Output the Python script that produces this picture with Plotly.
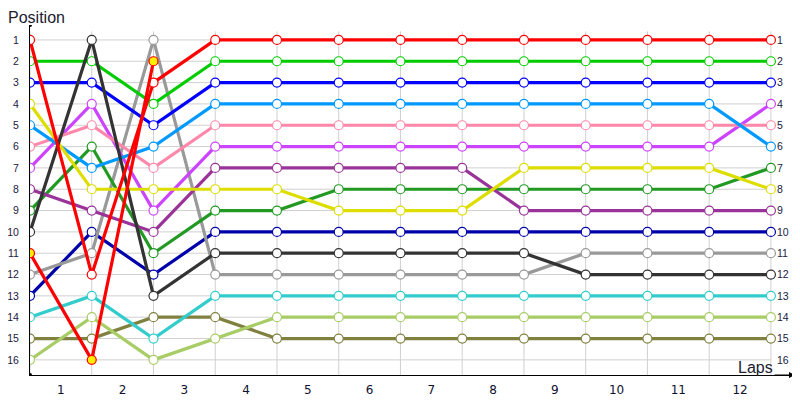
import plotly.graph_objects as go

# lap boundaries 0..12, positions per driver (None = retired)
boundaries = list(range(13))
lap_labels = [str(i) for i in range(1, 13)]
positions = list(range(1, 17))

red = [1, 12, 3, 1, 1, 1, 1, 1, 1, 1, 1, 1, 1]
green = [2, 2, 4, 2, 2, 2, 2, 2, 2, 2, 2, 2, 2]
blue = [3, 3, 5, 3, 3, 3, 3, 3, 3, 3, 3, 3, 3]
yellow = [4, 8, 8, 8, 8, 9, 9, 9, 7, 7, 7, 7, 8]
light_blue = [5, 7, 6, 4, 4, 4, 4, 4, 4, 4, 4, 4, 6]
pink = [6, 5, 7, 5, 5, 5, 5, 5, 5, 5, 5, 5, 5]
magenta = [7, 4, 9, 6, 6, 6, 6, 6, 6, 6, 6, 6, 4]
purple = [8, 9, 10, 7, 7, 7, 7, 7, 9, 9, 9, 9, 9]
dark_green = [9, 6, 11, 9, 9, 8, 8, 8, 8, 8, 8, 8, 7]
black = [10, 1, 13, 11, 11, 11, 11, 11, 11, 12, 12, 12, 12]
red_pit = [11, 16, 2, None, None, None, None, None, None, None, None, None, None]
grey = [12, 11, 1, 12, 12, 12, 12, 12, 12, 11, 11, 11, 11]
navy = [13, 10, 12, 10, 10, 10, 10, 10, 10, 10, 10, 10, 10]
cyan = [14, 13, 15, 13, 13, 13, 13, 13, 13, 13, 13, 13, 13]
olive = [15, 15, 14, 14, 15, 15, 15, 15, 15, 15, 15, 15, 15]
light_green = [16, 14, 16, 15, 14, 14, 14, 14, 14, 14, 14, 14, 14]

series = [
    (olive, "#808040", "white"),
    (light_green, "#a8cc66", "white"),
    (cyan, "#33cccc", "white"),
    (navy, "#0000aa", "white"),
    (grey, "#999999", "white"),
    (dark_green, "#229922", "white"),
    (purple, "#993399", "white"),
    (magenta, "#cc44ff", "white"),
    (pink, "#ff88aa", "white"),
    (light_blue, "#0099ff", "white"),
    (yellow, "#dddd00", "white"),
    (blue, "#0000ff", "white"),
    (green, "#00cc00", "white"),
    (black, "#333333", "white"),
    (red, "#ff0000", "white"),
    (red_pit, "#ff0000", "#ffee00"),
]

fig = go.Figure()

# grid
for p in positions:
    fig.add_shape(type="line", x0=0, x1=12, y0=p, y1=p, layer="below",
                  line=dict(color="#d0d0d0", width=1))
for b in boundaries:
    fig.add_shape(type="line", x0=b, x1=b, y0=0.6, y1=16.71, layer="below",
                  line=dict(color="#d0d0d0", width=1))

for vals, col, fill in series:
    fig.add_trace(go.Scatter(
        x=boundaries, y=vals, mode="lines+markers",
        line=dict(color=col, width=3.2),
        marker=dict(size=9, color=fill, line=dict(color=col, width=1.2)),
        showlegend=False, hoverinfo="skip"))

# invisible trace so the right-hand axis renders
fig.add_trace(go.Scatter(x=[0], y=[1], yaxis="y2", mode="markers",
                         marker=dict(opacity=0), showlegend=False, hoverinfo="skip"))

# page body adds 8px, so the figure is 792x392
tick_font = dict(family="Liberation Sans", size=10.5, color="#202040")
fig.update_layout(
    width=792, height=392,
    margin=dict(l=22, r=5, t=17, b=25, autoexpand=False),
    plot_bgcolor="white", paper_bgcolor="white",
    font=dict(family="DejaVu Sans", color="#202040"),
    xaxis=dict(range=[0, 12.39], tickvals=[i + 0.5 for i in range(12)], ticktext=lap_labels,
               showgrid=False, zeroline=False, showline=True, linecolor="black", linewidth=1,
               ticks="", tickfont=dict(size=12, color="#101030"), ticklabelstandoff=4,
               automargin=False),
    yaxis=dict(range=[16.71, 0.3], tickvals=positions, showgrid=False, zeroline=False,
               showline=True, linecolor="black", linewidth=1, ticks="",
               tickfont=tick_font, ticklabelstandoff=8, automargin=False),
    yaxis2=dict(range=[16.71, 0.3], tickvals=positions, overlaying="y", side="right",
                anchor="free", position=741 / 765, showgrid=False, zeroline=False,
                showline=False, ticks="", tickfont=tick_font,
                ticklabelstandoff=5, automargin=False),
)

# axis titles and decorations
fig.add_annotation(text="Position", xref="paper", yref="paper", x=-22 / 765, y=1.0,
                   xanchor="left", yanchor="bottom", showarrow=False,
                   font=dict(family="Liberation Sans", size=16, color="#202030"),
                   yshift=-3, xshift=-2)
fig.add_annotation(text="Laps", xref="x", yref="y", x=12.0, y=16.71,
                   xanchor="right", yanchor="bottom", showarrow=False,
                   font=dict(family="Liberation Sans", size=16, color="#202030"),
                   yshift=-3, xshift=4)
fig.add_annotation(x=12.39, y=16.71, xref="x", yref="y", ax=-22, ay=0,
                   showarrow=True, arrowhead=2, arrowsize=1.2, arrowwidth=1,
                   arrowcolor="black", text="")
fig.add_shape(type="circle", xref="x", yref="y", xsizemode="pixel", ysizemode="pixel",
              xanchor=0, yanchor=0.3, x0=-2, x1=2, y0=-2, y1=2,
              fillcolor="black", line=dict(width=0))
fig.add_shape(type="circle", xref="x", yref="y", xsizemode="pixel", ysizemode="pixel",
              xanchor=0, yanchor=16.71, x0=-2, x1=2, y0=-2, y1=2,
              fillcolor="black", line=dict(width=0))

fig.write_html("out.html")
